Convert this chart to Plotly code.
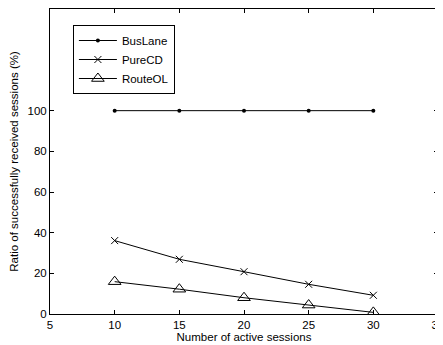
import plotly.graph_objects as go

sessions = [10, 15, 20, 25, 30]
buslane = [100, 100, 100, 100, 100]
purecd = [36.1, 26.9, 20.8, 14.6, 9.2]
routeol = [15.9, 12.2, 8.0, 4.4, 0.8]
x_ticks = [5, 10, 15, 20, 25, 30, 35]
y_ticks = [0, 20, 40, 60, 80, 100]

FS = 11.5

fig = go.Figure()
fig.add_trace(go.Scatter(x=sessions, y=buslane, name="BusLane", mode="lines+markers",
                         line=dict(color="black", width=1),
                         marker=dict(symbol="circle", size=4, color="black")))
fig.add_trace(go.Scatter(x=sessions, y=purecd, name="PureCD", mode="lines+markers",
                         line=dict(color="black", width=1),
                         marker=dict(symbol="x-thin", size=7, color="black",
                                     line=dict(color="black", width=1))))
fig.add_trace(go.Scatter(x=sessions, y=routeol, name="RouteOL", mode="lines+markers",
                         line=dict(color="black", width=1),
                         marker=dict(symbol="triangle-up-open", size=11, color="black",
                                     line=dict(color="black", width=1))))

axis_common = dict(showline=True, linecolor="black", linewidth=1, mirror="ticks",
                   ticks="inside", ticklen=4, tickcolor="black", showgrid=False,
                   zeroline=False, automargin=False, ticklabeloverflow="allow",
                   tickfont=dict(size=FS, color="black"))

# The page body has an 8px default margin, so the figure is sized to fit the window.
fig.update_layout(
    width=435, height=337,
    margin=dict(l=42, r=5, t=1, b=31),
    paper_bgcolor="white", plot_bgcolor="white",
    font=dict(family="Liberation Sans, Arial, sans-serif", size=FS, color="black"),
    showlegend=True,
    legend=dict(x=0.059, y=0.9475, xanchor="left", yanchor="top",
                bordercolor="black", borderwidth=1, bgcolor="white",
                font=dict(size=FS), tracegroupgap=0, itemwidth=38),
    xaxis=dict(range=[5, 35], tickvals=x_ticks,
               title=dict(text="Number of active sessions", standoff=0, font=dict(size=FS)),
               **axis_common),
    yaxis=dict(range=[0, 150], tickvals=y_ticks,
               title=dict(text="Ratio of successfully received sessions (%)", standoff=6,
                          font=dict(size=FS)),
               **axis_common),
)

fig.write_html("out.html")
